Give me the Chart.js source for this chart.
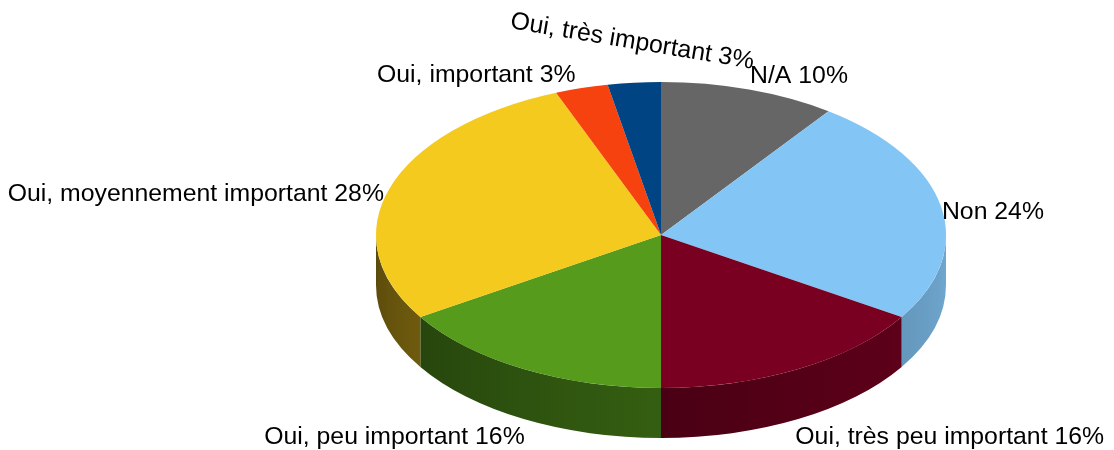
<!DOCTYPE html>
<html>
<head>
<meta charset="utf-8">
<title>Importance</title>
<script src="https://cdn.jsdelivr.net/npm/chart.js@4/dist/chart.umd.min.js"></script>
<style>
  html, body { margin: 0; padding: 0; background: #ffffff; }
  #wrap { width: 1114px; height: 450px; position: relative; }
</style>
</head>
<body>
<div id="wrap"><canvas id="myChart"></canvas></div>
<script>

// Réponses, dans l'ordre des aiguilles d'une montre depuis le haut
const categories = [ 'N/A', 'Non', 'Oui, très peu important', 'Oui, peu important', 'Oui, moyennement important', 'Oui, important', 'Oui, très important' ]
const percents = [ 10, 24, 16, 16, 28, 3, 3 ]
const colors = [ '#666666', '#83c5f5', '#7a0021', '#569b1c', '#f5ca1f', '#f5420e', '#004483' ]

// geometrie du camembert "3D"
const RADIUS = 285
const TILT = 153 / 285
const DEPTH = 50
const CENTER_Y = 235
const FONT = '24.8px "Liberation Sans", Arial, sans-serif'

const shade = ( hex, f ) => {
  const n = parseInt( hex.slice( 1 ), 16 )
  const r = Math.round( ( n >> 16 & 255 ) * f )
  const g = Math.round( ( n >> 8 & 255 ) * f )
  const b = Math.round( ( n & 255 ) * f )
  return `rgb(${r},${g},${b})`
}

// luminosite du flanc selon l'angle (0 = droite, PI = gauche)
const sideLight = a => 0.86 - 0.5 * ( a / Math.PI )

const drawSide = ( ctx, arc, color ) => {
  const lo = Math.max( arc.startAngle, 0 )
  const hi = Math.min( arc.endAngle, Math.PI )
  if ( lo >= hi ) return

  const x = arc.x, r = arc.outerRadius, ry = r * TILT
  const xLeft = x + r * Math.cos( hi ), xRight = x + r * Math.cos( lo )

  const grad = ctx.createLinearGradient( xLeft, 0, xRight, 0 )
  const steps = 12
  for ( let s = 0; s <= steps; s++ ) {
    const a = lo + ( hi - lo ) * s / steps
    const t = xRight === xLeft ? 0 : ( x + r * Math.cos( a ) - xLeft ) / ( xRight - xLeft )
    grad.addColorStop( Math.min( Math.max( t, 0 ), 1 ), shade( color, sideLight( a ) ) )
  }

  ctx.beginPath()
  ctx.ellipse( x, CENTER_Y, r, ry, 0, lo, hi )
  ctx.lineTo( x + r * Math.cos( hi ), CENTER_Y + ry * Math.sin( hi ) + DEPTH )
  ctx.ellipse( x, CENTER_Y + DEPTH, r, ry, 0, hi, lo, true )
  ctx.closePath()
  ctx.fillStyle = grad
  ctx.fill()
}

const drawLabels = ( chart ) => {
  const ctx = chart.ctx
  const arcs = chart.getDatasetMeta( 0 ).data

  ctx.save()
  ctx.font = FONT
  ctx.fillStyle = '#000000'

  arcs.forEach( ( arc, i ) => {
    const mid = ( arc.startAngle + arc.endAngle ) / 2
    const dx = Math.cos( mid ), dy = Math.sin( mid )
    const r = arc.outerRadius
    let px = arc.x + r * dx
    let py = CENTER_Y + r * TILT * dy + ( dy > 0 ? DEPTH : 0 )
    const text = categories[ i ] + ' ' + percents[ i ] + '%'

    // la derniere etiquette est tournee pour ne pas chevaucher ses voisines
    if ( i === arcs.length - 1 ) {
      ctx.save()
      ctx.translate( px - 2, py - 41 )
      ctx.rotate( 9.5 * Math.PI / 180 )
      ctx.textAlign = 'center'
      ctx.textBaseline = 'middle'
      ctx.fillText( text, 0, 0 )
      ctx.restore()
      return
    }

    ctx.textAlign = dx > 0.15 ? 'left' : dx < -0.15 ? 'right' : 'center'
    ctx.textBaseline = dy > 0.5 ? 'top' : dy < -0.5 ? 'bottom' : 'middle'
    if ( dy > 0.5 ) px += dx > 0 ? -3 : 1
    else px += dx > 0 ? 1 : -6
    py += dy > 0.5 ? 6 : dy < -0.5 ? -1 : 6
    ctx.fillText( text, px, py )
  })

  ctx.restore()
}

const pie3d = {
  id: 'pie3d',
  beforeDatasetsDraw( chart ) {
    const ctx = chart.ctx
    const arcs = chart.getDatasetMeta( 0 ).data
    arcs.forEach( ( arc, i ) => drawSide( ctx, arc, colors[ i ] ) )

    // le dessus est ecrase verticalement pour donner l'ellipse
    ctx.save()
    ctx.translate( arcs[ 0 ].x, CENTER_Y )
    ctx.scale( 1, TILT )
    ctx.translate( -arcs[ 0 ].x, -arcs[ 0 ].y )
  },
  afterDatasetsDraw( chart ) {
    chart.ctx.restore()
    drawLabels( chart )
  }
}

const myChart = document.getElementById( 'myChart' ).getContext( '2d' )

new Chart( myChart, {
  type: 'pie',
  data: {
    labels: categories,
    datasets: [{
      data: percents,
      backgroundColor: colors,
      borderWidth: 0,
      radius: RADIUS,
      clip: false
    }]
  },
  options: {
    responsive: true,
    maintainAspectRatio: false,
    animation: false,
    layout: { padding: { left: 208, right: 0, top: 0, bottom: 0 } },
    plugins: {
      legend: { display: false },
      tooltip: { enabled: false }
    }
  },
  plugins: [ pie3d ]
})

</script>
</body>
</html>
